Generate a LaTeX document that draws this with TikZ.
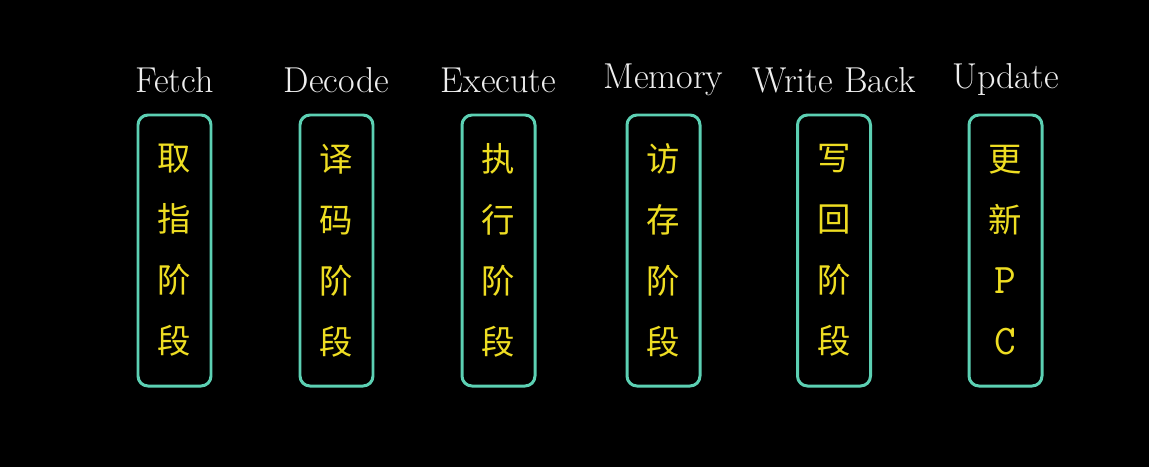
\documentclass[tikz,border=0pt]{standalone}
\usepackage{fontspec}
\newfontfamily\cjk{Noto Sans CJK SC}
\definecolor{stageteal}{HTML}{5CD0B3}
\definecolor{stageyellow}{HTML}{EEDD22}
\definecolor{labelwhite}{HTML}{EEEEEE}
\begin{document}
\begin{tikzpicture}[
                      stagebox/.style = {rectangle, rounded corners=0.2cm, draw=stageteal, line width=1.7pt,
                                         minimum width=1.46cm, minimum height=5.42cm, align=center,
                                         text=stageyellow, font=\cjk\fontsize{19}{34.7}\selectfont},
                      stagelabel/.style = {inner sep=0pt, text=labelwhite, font=\fontsize{20.5}{24}\selectfont}
                  ]
                  \fill[black] (0,0) rectangle (22.98,9.34);
                  \useasboundingbox (0,0) rectangle (22.98,9.34);
                  \node[stagebox] (fetch)   at (3.49,4.33)  {取\\指\\阶\\段};
                  \node[stagebox] (decode)  at (6.73,4.33)  {译\\码\\阶\\段};
                  \node[stagebox] (execute) at (9.97,4.33)  {执\\行\\阶\\段};
                  \node[stagebox] (memory)  at (13.27,4.33) {访\\存\\阶\\段};
                  \node[stagebox] (writeback) at (16.68,4.33) {写\\回\\阶\\段};
                  \node[stagebox] (update)  at (20.11,4.33) {更\\新\\{\ttfamily\fontsize{24}{34.7}\selectfont P}\\{\ttfamily\fontsize{24}{34.7}\selectfont C}};
                  \node[stagelabel] (fetchlabel)     at (fetch |- 0,7.74)     {Fetch};
                  \node[stagelabel] (decodelabel)    at (decode |- 0,7.74)    {Decode};
                  \node[stagelabel] (executelabel)   at (execute |- 0,7.74)   {Execute};
                  \node[stagelabel] (memorylabel)    at (memory |- 0,7.74)    {Memory};
                  \node[stagelabel] (writebacklabel) at (writeback |- 0,7.74) {Write Back};
                  \node[stagelabel] (updatelabel)    at (update |- 0,7.74)    {Update};
              \end{tikzpicture}
\end{document}
